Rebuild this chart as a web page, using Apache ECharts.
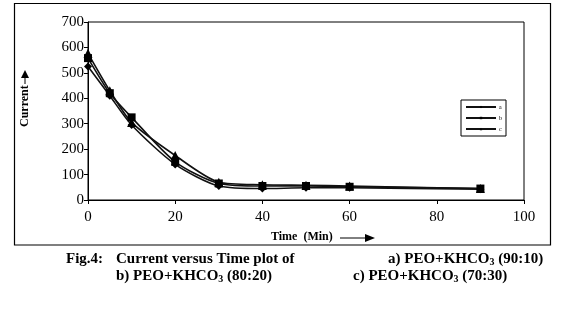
<!DOCTYPE html>
<html>
<head>
<meta charset="utf-8">
<script src="https://cdn.jsdelivr.net/npm/echarts@6/dist/echarts.min.js"></script>
<style>
  html, body { margin: 0; padding: 0; background: #fff; }
  #chart { width: 571px; height: 323px; }
</style>
</head>
<body>
<div id="chart"></div>
<script>
// Time in minutes at which the current was recorded
const timeMin = [0, 5, 10, 20, 30, 40, 50, 60, 90];
// Current readings for each PEO+KHCO3 composition
const seriesA = [525, 410, 295, 140, 55, 45, 48, 48, 42];
const seriesB = [558, 420, 325, 150, 65, 55, 55, 52, 45];
const seriesC = [577, 430, 305, 175, 70, 60, 58, 55, 45];
const seriesNames = ['a', 'b', 'c'];
const xTicks = [0, 20, 40, 60, 80, 100];
const yTicks = [0, 100, 200, 300, 400, 500, 600, 700];

const serif = '"Liberation Serif", "Times New Roman", serif';
const pair = (vals) => timeMin.map((t, i) => [t, vals[i]]);

function lineSeries(name, vals, symbol) {
  return {
    name: name,
    type: 'line',
    data: pair(vals),
    smooth: 0.25,
    symbol: symbol,
    symbolSize: symbol === 'triangle' ? 9 : 8,
    lineStyle: { color: '#111', width: 1.6 },
    itemStyle: { color: '#000' }
  };
}

const chart = echarts.init(document.getElementById('chart'));
chart.setOption({
  animation: false,
  backgroundColor: '#fff',
  grid: { left: 88, top: 22, width: 436, height: 178, containLabel: false,
          show: true, borderColor: '#000', borderWidth: 1, backgroundColor: 'transparent' },
  xAxis: {
    type: 'value',
    min: xTicks[0], max: xTicks[xTicks.length - 1], interval: 20,
    axisLine: { lineStyle: { color: '#000', width: 1 } },
    axisTick: { show: true, length: 4, lineStyle: { color: '#000' } },
    axisLabel: { color: '#000', fontFamily: serif, fontSize: 15, margin: 10 },
    splitLine: { show: false }
  },
  yAxis: {
    type: 'value',
    min: yTicks[0], max: yTicks[yTicks.length - 1], interval: 100,
    axisLine: { show: true, lineStyle: { color: '#000', width: 1 } },
    axisTick: { show: true, length: 4, lineStyle: { color: '#000' } },
    axisLabel: { color: '#000', fontFamily: serif, fontSize: 15, margin: 4 },
    splitLine: { show: false }
  },
  legend: {
    data: seriesNames,
    orient: 'vertical',
    left: 461, top: 100,
    padding: [4, 4, 4, 4],
    itemGap: 5,
    itemWidth: 30, itemHeight: 3,
    borderColor: '#000', borderWidth: 1,
    textStyle: { fontSize: 6, color: '#000', fontFamily: serif, padding: [0, 0, 0, -2] }
  },
  series: [
    lineSeries(seriesNames[0], seriesA, 'diamond'),
    lineSeries(seriesNames[1], seriesB, 'rect'),
    lineSeries(seriesNames[2], seriesC, 'triangle')
  ],
  graphic: [
    // outer frame around plot
    { type: 'rect', shape: { x: 14.5, y: 3.5, width: 536, height: 241.5 },
      style: { fill: null, stroke: '#000', lineWidth: 1.2 }, silent: true },
    // y-axis title with arrow
    { type: 'text', x: 25, y: 127, rotation: Math.PI / 2,
      style: { text: 'Current', font: 'bold 12px ' + serif, fill: '#000',
               textAlign: 'left', textVerticalAlign: 'middle' } },
    { type: 'polygon', shape: { points: [[25, 70], [21, 78], [29, 78]] }, style: { fill: '#000' } },
    { type: 'line', shape: { x1: 25, y1: 78, x2: 25, y2: 84 }, style: { stroke: '#000', lineWidth: 1 } },
    // x-axis title with arrow
    { type: 'text', x: 271, y: 237,
      style: { text: 'Time  (Min)', font: 'bold 12px ' + serif, fill: '#000',
               textAlign: 'left', textVerticalAlign: 'middle' } },
    { type: 'line', shape: { x1: 340, y1: 238, x2: 366, y2: 238 }, style: { stroke: '#000', lineWidth: 1 } },
    { type: 'polygon', shape: { points: [[375, 238], [365, 234], [365, 242]] }, style: { fill: '#000' } },
    // caption
    { type: 'text', x: 66, y: 259,
      style: { text: 'Fig.4:', font: 'bold 15px ' + serif, fill: '#000', textVerticalAlign: 'middle' } },
    { type: 'text', x: 116, y: 259,
      style: { text: 'Current versus Time plot of', font: 'bold 15px ' + serif, fill: '#000', textVerticalAlign: 'middle' } },
    { type: 'text', x: 388, y: 259,
      style: { text: '{t|a) PEO+KHCO}{s|3}{t| (90:10)}', fill: '#000', textVerticalAlign: 'middle',
               rich: { t: { font: 'bold 15px ' + serif }, s: { font: 'bold 10px ' + serif, padding: [6, 0, 0, 0] } } } },
    { type: 'text', x: 116, y: 276,
      style: { text: '{t|b) PEO+KHCO}{s|3}{t| (80:20)}', fill: '#000', textVerticalAlign: 'middle',
               rich: { t: { font: 'bold 15px ' + serif }, s: { font: 'bold 10px ' + serif, padding: [6, 0, 0, 0] } } } },
    { type: 'text', x: 353, y: 276,
      style: { text: '{t|c) PEO+KHCO}{s|3}{t| (70:30)}', fill: '#000', textVerticalAlign: 'middle',
               rich: { t: { font: 'bold 15px ' + serif }, s: { font: 'bold 10px ' + serif, padding: [6, 0, 0, 0] } } } }
  ]
});
</script>
</body>
</html>
